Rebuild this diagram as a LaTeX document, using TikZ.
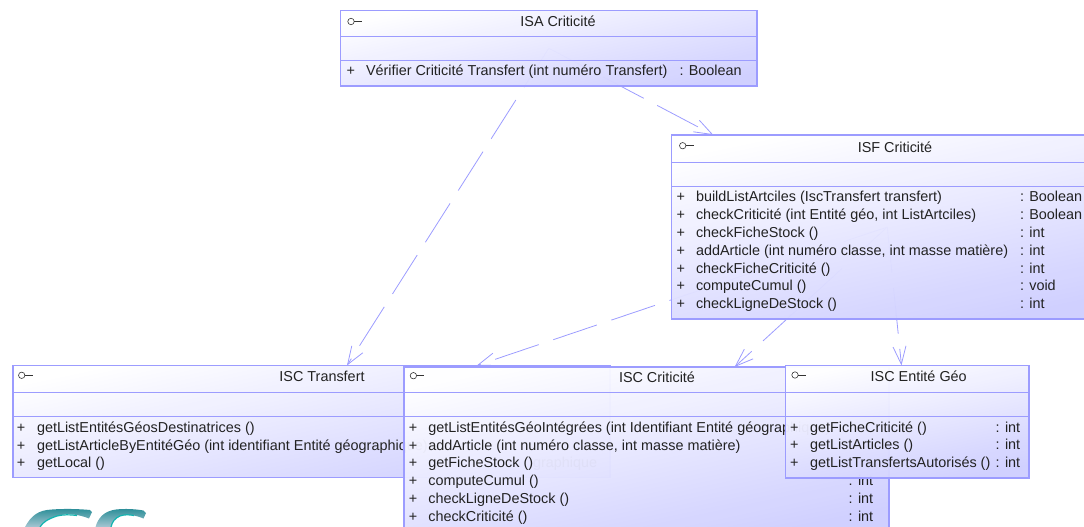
\documentclass[tikz,border=0pt]{standalone}
\usepackage{fontspec}
\setmainfont{Liberation Sans}
\usetikzlibrary{arrows.meta}
\definecolor{umlblue}{HTML}{9C9CFF}
\definecolor{umlend}{HTML}{CECEFF}
\definecolor{icongrey}{HTML}{333333}
\definecolor{inktext}{HTML}{222222}
\pgfdeclarelayer{conn}
\pgfsetlayers{conn,main}
\tikzset{
  umlbox/.style={draw=umlblue,line width=1.4pt,inner sep=0pt,outer sep=0pt,
    top color=white,bottom color=umlend,shading angle=12,fill opacity=0.965},
  sepline/.style={draw=umlblue,line width=.9pt},
  deplink/.style={draw=umlblue,line width=.8pt,dash pattern=on 46pt off 15.3pt,
    -{Straight Barb[length=18pt,width=13pt,line width=.8pt]}},
  umltext/.style={anchor=base west,inner sep=0pt,outer sep=0pt,text=inktext,font=\fontsize{14.4}{16}\selectfont},
  umltitle/.style={anchor=base,inner sep=0pt,outer sep=0pt,text=inktext,font=\fontsize{14.4}{16}\selectfont},
  iconpart/.style={draw=icongrey,line width=.6pt},
  logopart/.style={top color=logoa,bottom color=logob,draw=none}
}
\definecolor{logoa}{HTML}{2B8E98}
\definecolor{logob}{HTML}{A6C6D2}
\definecolor{logoc}{HTML}{12B5B0}
\newcommand{\ifaceicon}[3]{%
  \node[draw=icongrey,line width=.6pt,circle,minimum size=6.4pt,inner sep=0pt,outer sep=0pt] (#1-ball) at (#2,#3) {};
  \coordinate (#1-stick) at (#2+11,#3);
  \draw[iconpart] (#1-ball) -- (#1-stick);}
\newcommand{\umlrowb}[5]{%
  \node[umltext] (#1-p) at (#3,#2+5.2) {+};
  \node[umltext] (#1-n) at (#4,#2+5.2) {#5};}
\newcommand{\umlrow}[7]{%
  \umlrowb{#1}{#2}{#3}{#4}{#5}
  \node[umltext] (#1-t) at (#6,#2+5.2) {#7};}
\newcommand{\umlseps}[3]{%
  \draw[sepline] (#1.west |- 0,#2) -- (#1.east |- 0,#2);
  \draw[sepline] (#1.west |- 0,#3) -- (#1.east |- 0,#3);}
\begin{document}
\begin{tikzpicture}[x=1pt,y=-1pt]
\path[use as bounding box,clip] (0,0) rectangle (1084,527);

% logo
\path[logopart] (25,527) .. controls (31,516) and (38,510) .. (52,509.5)
  .. controls (65,508.5) and (80,509) .. (90,510) -- (92,512) -- (89,518.5)
  .. controls (78,514) and (66,513) .. (57,516) .. controls (48,519) and (43,522) .. (40,527) -- cycle;
\path[logopart] (95.5,527) .. controls (98,518) and (104,511) .. (116,509.5)
  .. controls (125,508.5) and (135,509) .. (143.5,510.5) -- (146,513) -- (143.5,518.5)
  .. controls (135,515) and (126,513.5) .. (120,516) .. controls (115,518) and (112,522) .. (111,527) -- cycle;
\draw[logoc,line width=1.2pt] (40,527) .. controls (43,522) and (48,519) .. (57,516) .. controls (63,514.5) and (70,514.5) .. (77,515.5);
\draw[logoc,line width=1.2pt] (111,527) .. controls (112,522) and (115,518) .. (120,516) .. controls (124,514.5) and (129,514.5) .. (134,515.5);

% ISA
\node[umlbox,minimum width=416.5pt,minimum height=75.5pt] (isa) at (548.75,48.25) {};
\umlseps{isa}{36}{60}
\ifaceicon{isa}{351}{21.5}
\node[umltitle] (isa-title) at (558,26.7) {ISA Criticité};
\umlrow{isa1}{70.3}{346.5}{366}{Vérifier Criticité Transfert (int numéro Transfert)}{679.5}{: Boolean}

% ISF
\node[umlbox,minimum width=431.5pt,minimum height=184pt] (isf) at (887.25,227) {};
\umlseps{isf}{162}{186}
\ifaceicon{isf}{682.7}{145.7}
\node[umltitle] (isf-title) at (895,152.3) {ISF Criticité};
\umlrow{isf1}{196.7}{676.5}{696}{buildListArtciles (IscTransfert transfert)}{1020}{: Boolean}
\umlrow{isf2}{214.7}{676.5}{696}{checkCriticité (int Entité géo, int ListArtciles)}{1020}{: Boolean}
\umlrow{isf3}{232.7}{676.5}{696}{checkFicheStock ()}{1020}{: int}
\umlrow{isf4}{250.3}{676.5}{696}{addArticle (int numéro classe, int masse matière)}{1020}{: int}
\umlrow{isf5}{268}{676.5}{696}{checkFicheCriticité ()}{1020}{: int}
\umlrow{isf6}{285.7}{676.5}{696}{computeCumul ()}{1020}{: void}
\umlrow{isf7}{303.7}{676.5}{696}{checkLigneDeStock ()}{1020}{: int}

% ISC Transfert
\node[umlbox,minimum width=597pt,minimum height=112pt] (isct) at (311.5,421.5) {};
\umlseps{isct}{392}{416}
\ifaceicon{isct}{21.7}{375.3}
\node[umltitle] (isct-title) at (322,381.7) {ISC Transfert};
\umlrowb{isct1}{427.3}{16.8}{37}{getListEntitésGéosDestinatrices ()}
\umlrowb{isct2}{445}{16.8}{37}{getListArticleByEntitéGéo (int identifiant Entité géographique)}
\umlrowb{isct3}{462.7}{16.8}{37}{getLocal ()}
\node[umltext] (isct3-t) at (533,467.9) {graphique};

% ISC Criticite
\node[umlbox,minimum width=485pt,minimum height=162pt] (iscc) at (646.5,448) {};
\umlseps{iscc}{392}{416}
\ifaceicon{iscc}{413.4}{375.7}
\node[umltitle] (iscc-title) at (657,382.3) {ISC Criticité};
\umlrowb{iscc1}{427.3}{408.8}{428.3}{getListEntitésGéoIntégrées (int Identifiant Entité géographique)}
\umlrowb{iscc2}{445}{408.8}{428.3}{addArticle (int numéro classe, int masse matière)}
\umlrowb{iscc3}{462.7}{408.8}{428.3}{getFicheStock ()}
\umlrow{iscc4}{480.5}{408.8}{428.3}{computeCumul ()}{848.7}{: int}
\umlrow{iscc5}{498.3}{408.8}{428.3}{checkLigneDeStock ()}{848.7}{: int}
\umlrow{iscc6}{516.3}{408.8}{428.3}{checkCriticité ()}{848.7}{: int}

% ISC Entite
\node[umlbox,minimum width=243.5pt,minimum height=112.5pt] (isce) at (907.25,421.75) {};
\umlseps{isce}{392.5}{416.5}
\ifaceicon{isce}{795}{375}
\node[umltitle] (isce-title) at (918.7,381) {ISC Entité Géo};
\umlrow{isce1}{427.3}{790}{810}{getFicheCriticité ()}{995.7}{: int}
\umlrow{isce2}{444.5}{790}{810}{getListArticles ()}{995.7}{: int}
\umlrow{isce3}{462.7}{790}{810}{getListTransfertsAutorisés ()}{995.7}{: int}

% connectors
\begin{pgfonlayer}{conn}
\draw[deplink] (isa.center) -- (isct);
\draw[deplink] (isa.center) -- (isf);
\draw[deplink] (isf.center) -- (isct);
\draw[deplink] (isf.center) -- (iscc);
\draw[deplink] (isf.center) -- (isce);
\end{pgfonlayer}
\end{tikzpicture}
\end{document}
